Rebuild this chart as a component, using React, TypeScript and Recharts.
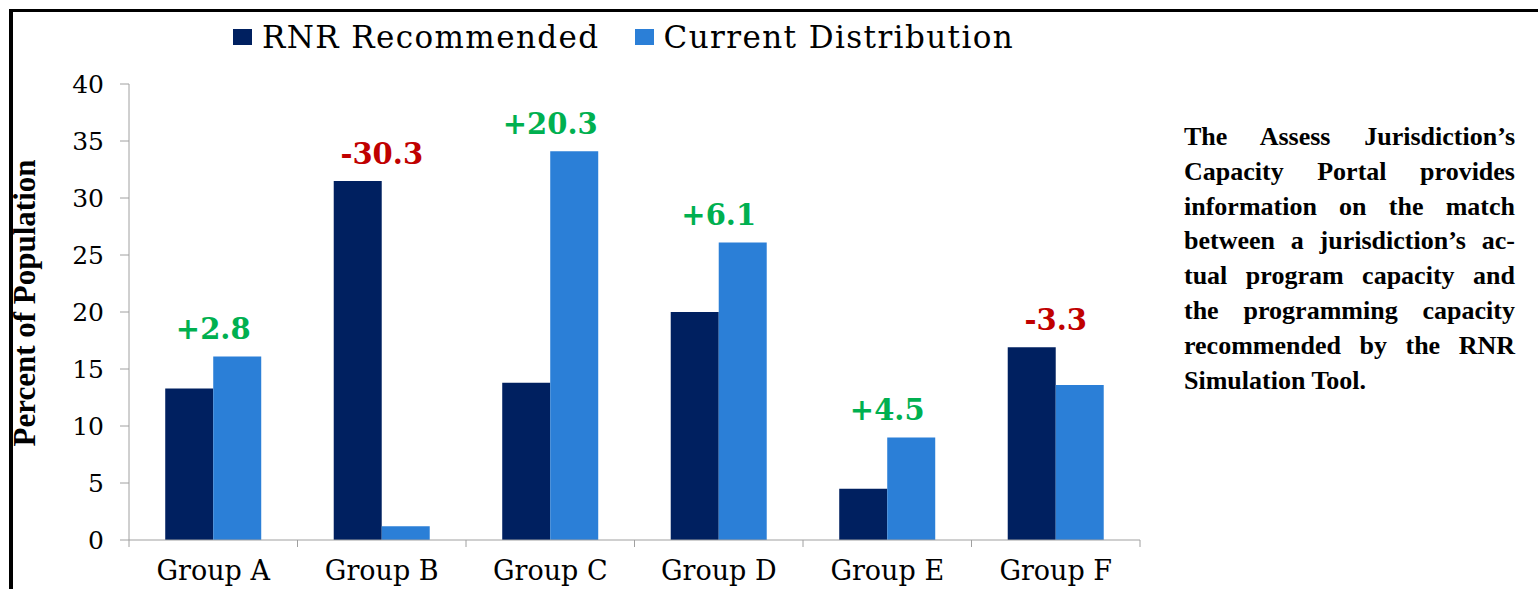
import React from 'react';
import { ComposedChart, Bar, Line, XAxis, YAxis, Legend, LabelList } from 'recharts';

const groups = ['Group A', 'Group B', 'Group C', 'Group D', 'Group E', 'Group F'];
const rnrRecommended = [13.3, 31.5, 13.8, 20.0, 4.5, 16.9];
const currentDistribution = [16.1, 1.2, 34.1, 26.1, 9.0, 13.6];
const gapLabels = ['+2.8', '-30.3', '+20.3', '+6.1', '+4.5', '-3.3'];
const yTicks = [0, 5, 10, 15, 20, 25, 30, 35, 40];
const legendOrder = ['rnr', 'current'];
const paragraphLines = [
  'The Assess Jurisdiction\u2019s',
  'Capacity Portal provides',
  'information on the match',
  'between a jurisdiction\u2019s ac-',
  'tual program capacity and',
  'the programming capacity',
  'recommended by the RNR',
  'Simulation Tool.',
];

const data = groups.map((g, i) => ({
  group: g,
  rnr: rnrRecommended[i],
  current: currentDistribution[i],
  peak: Math.max(rnrRecommended[i], currentDistribution[i]),
  gap: gapLabels[i],
}));

const NAVY = '#002060';
const BLUE = '#2B7FD7';
const AXIS = '#A0A0A0';

const CHART_W = 1538;
const MARGIN = { top: 84, right: 398, bottom: 9, left: 69 };
const Y_AXIS_W = 60;
const PLOT_W = CHART_W - MARGIN.left - MARGIN.right - Y_AXIS_W;
const HALF_BAND = PLOT_W / groups.length / 2;
const CAT_TICK_MARGIN = 21;

const renderGap = (props: any) => {
  const { x, y, value } = props;
  const neg = String(value).startsWith('-');
  return (
    <text
      x={x}
      y={y - 17}
      textAnchor="middle"
      fontFamily="DejaVu Serif"
      fontWeight={700}
      fontSize={29}
      fill={neg ? '#C00000' : '#00B050'}
    >
      {value}
    </text>
  );
};

const renderLegend = (props: any) => {
  const payload = (props.payload || [])
    .filter((p: any) => legendOrder.includes(p.dataKey))
    .sort((a: any, b: any) => legendOrder.indexOf(a.dataKey) - legendOrder.indexOf(b.dataKey));
  return (
    <div
      style={{
        display: 'flex',
        alignItems: 'center',
        fontFamily: 'DejaVu Serif',
        fontSize: 31,
        letterSpacing: 1.4,
        color: '#000',
        lineHeight: '36px',
        height: 36,
        whiteSpace: 'nowrap',
      }}
    >
      {payload.map((p: any, i: number) => (
        <div key={i} style={{ display: 'flex', alignItems: 'center', marginRight: i === 0 ? 35 : 0 }}>
          <span style={{ display: 'inline-block', width: 19, height: 16, background: p.color, marginRight: 10 }} />
          <span>{p.value}</span>
        </div>
      ))}
    </div>
  );
};

const YLabel = () => (
  <text
    x={35}
    y={303}
    transform="rotate(-90, 35, 303)"
    textAnchor="middle"
    fontFamily="Liberation Serif"
    fontWeight={700}
    fontSize={31}
    fill="#000"
  >
    Percent of Population
  </text>
);

const CatTick = (props: any) => {
  const { x, y, payload, index } = props;
  const axisY = y - CAT_TICK_MARGIN;
  const last = index === groups.length - 1;
  return (
    <g>
      <line x1={x - HALF_BAND} x2={x - HALF_BAND} y1={axisY} y2={axisY + 7} stroke={AXIS} />
      {last && <line x1={x + HALF_BAND} x2={x + HALF_BAND} y1={axisY} y2={axisY + 7} stroke={AXIS} />}
      <text x={x} y={y} dy="0.71em" textAnchor="middle" fontFamily="DejaVu Serif" fontSize={27} fill="#000">
        {payload.value}
      </text>
    </g>
  );
};

export default function App() {
  return (
    <div style={{ position: 'absolute', left: 0, top: 0, width: 1538, height: 589, overflow: 'hidden', background: '#fff' }}>
      <div
        style={{
          position: 'absolute',
          left: 9,
          top: 9,
          width: 1700,
          height: 800,
          borderTop: '3px solid #000',
          borderLeft: '4px solid #000',
          boxSizing: 'border-box',
        }}
      />
      <div style={{ position: 'absolute', left: 0, top: 0 }}>
        <ComposedChart
          width={CHART_W}
          height={589}
          data={data}
          margin={MARGIN}
          barCategoryGap="21.5%"
          barGap={0}
        >
          <XAxis
            xAxisId="cat"
            dataKey="group"
            height={40}
            axisLine={{ stroke: AXIS }}
            tickLine={false}
            tickSize={0}
            tickMargin={CAT_TICK_MARGIN}
            interval={0}
            tick={<CatTick />}
          />
          <YAxis
            domain={[0, 40]}
            ticks={yTicks}
            width={Y_AXIS_W}
            axisLine={{ stroke: AXIS }}
            tickLine={{ stroke: AXIS }}
            tickSize={9}
            tickMargin={16}
            tick={{ fontFamily: 'DejaVu Serif', fontSize: 25, fill: '#000' }}
            label={<YLabel />}
          />
          <Legend
            layout="horizontal"
            verticalAlign="middle"
            align="center"
            content={renderLegend}
            wrapperStyle={{ top: 19, left: 233, width: 'auto', height: 'auto' }}
          />
          <Bar xAxisId="cat" dataKey="rnr" name="RNR Recommended" fill={NAVY} isAnimationActive={false} />
          <Bar xAxisId="cat" dataKey="current" name="Current Distribution" fill={BLUE} isAnimationActive={false} />
          <Line
            xAxisId="cat"
            dataKey="peak"
            stroke="none"
            dot={false}
            activeDot={false}
            legendType="none"
            isAnimationActive={false}
          >
            <LabelList dataKey="gap" content={renderGap} />
          </Line>
        </ComposedChart>
      </div>
      <div
        style={{
          position: 'absolute',
          left: 1184,
          top: 120,
          width: 331,
          fontFamily: 'Liberation Serif',
          fontWeight: 700,
          fontSize: 26,
          lineHeight: '34.8px',
          color: '#000',
        }}
      >
        {paragraphLines.map((line, i) => (
          <div
            key={i}
            style={{
              textAlign: i === paragraphLines.length - 1 ? 'left' : 'justify',
              textAlignLast: i === paragraphLines.length - 1 ? 'left' : 'justify',
              whiteSpace: 'nowrap',
            }}
          >
            {line}
          </div>
        ))}
      </div>
    </div>
  );
}
